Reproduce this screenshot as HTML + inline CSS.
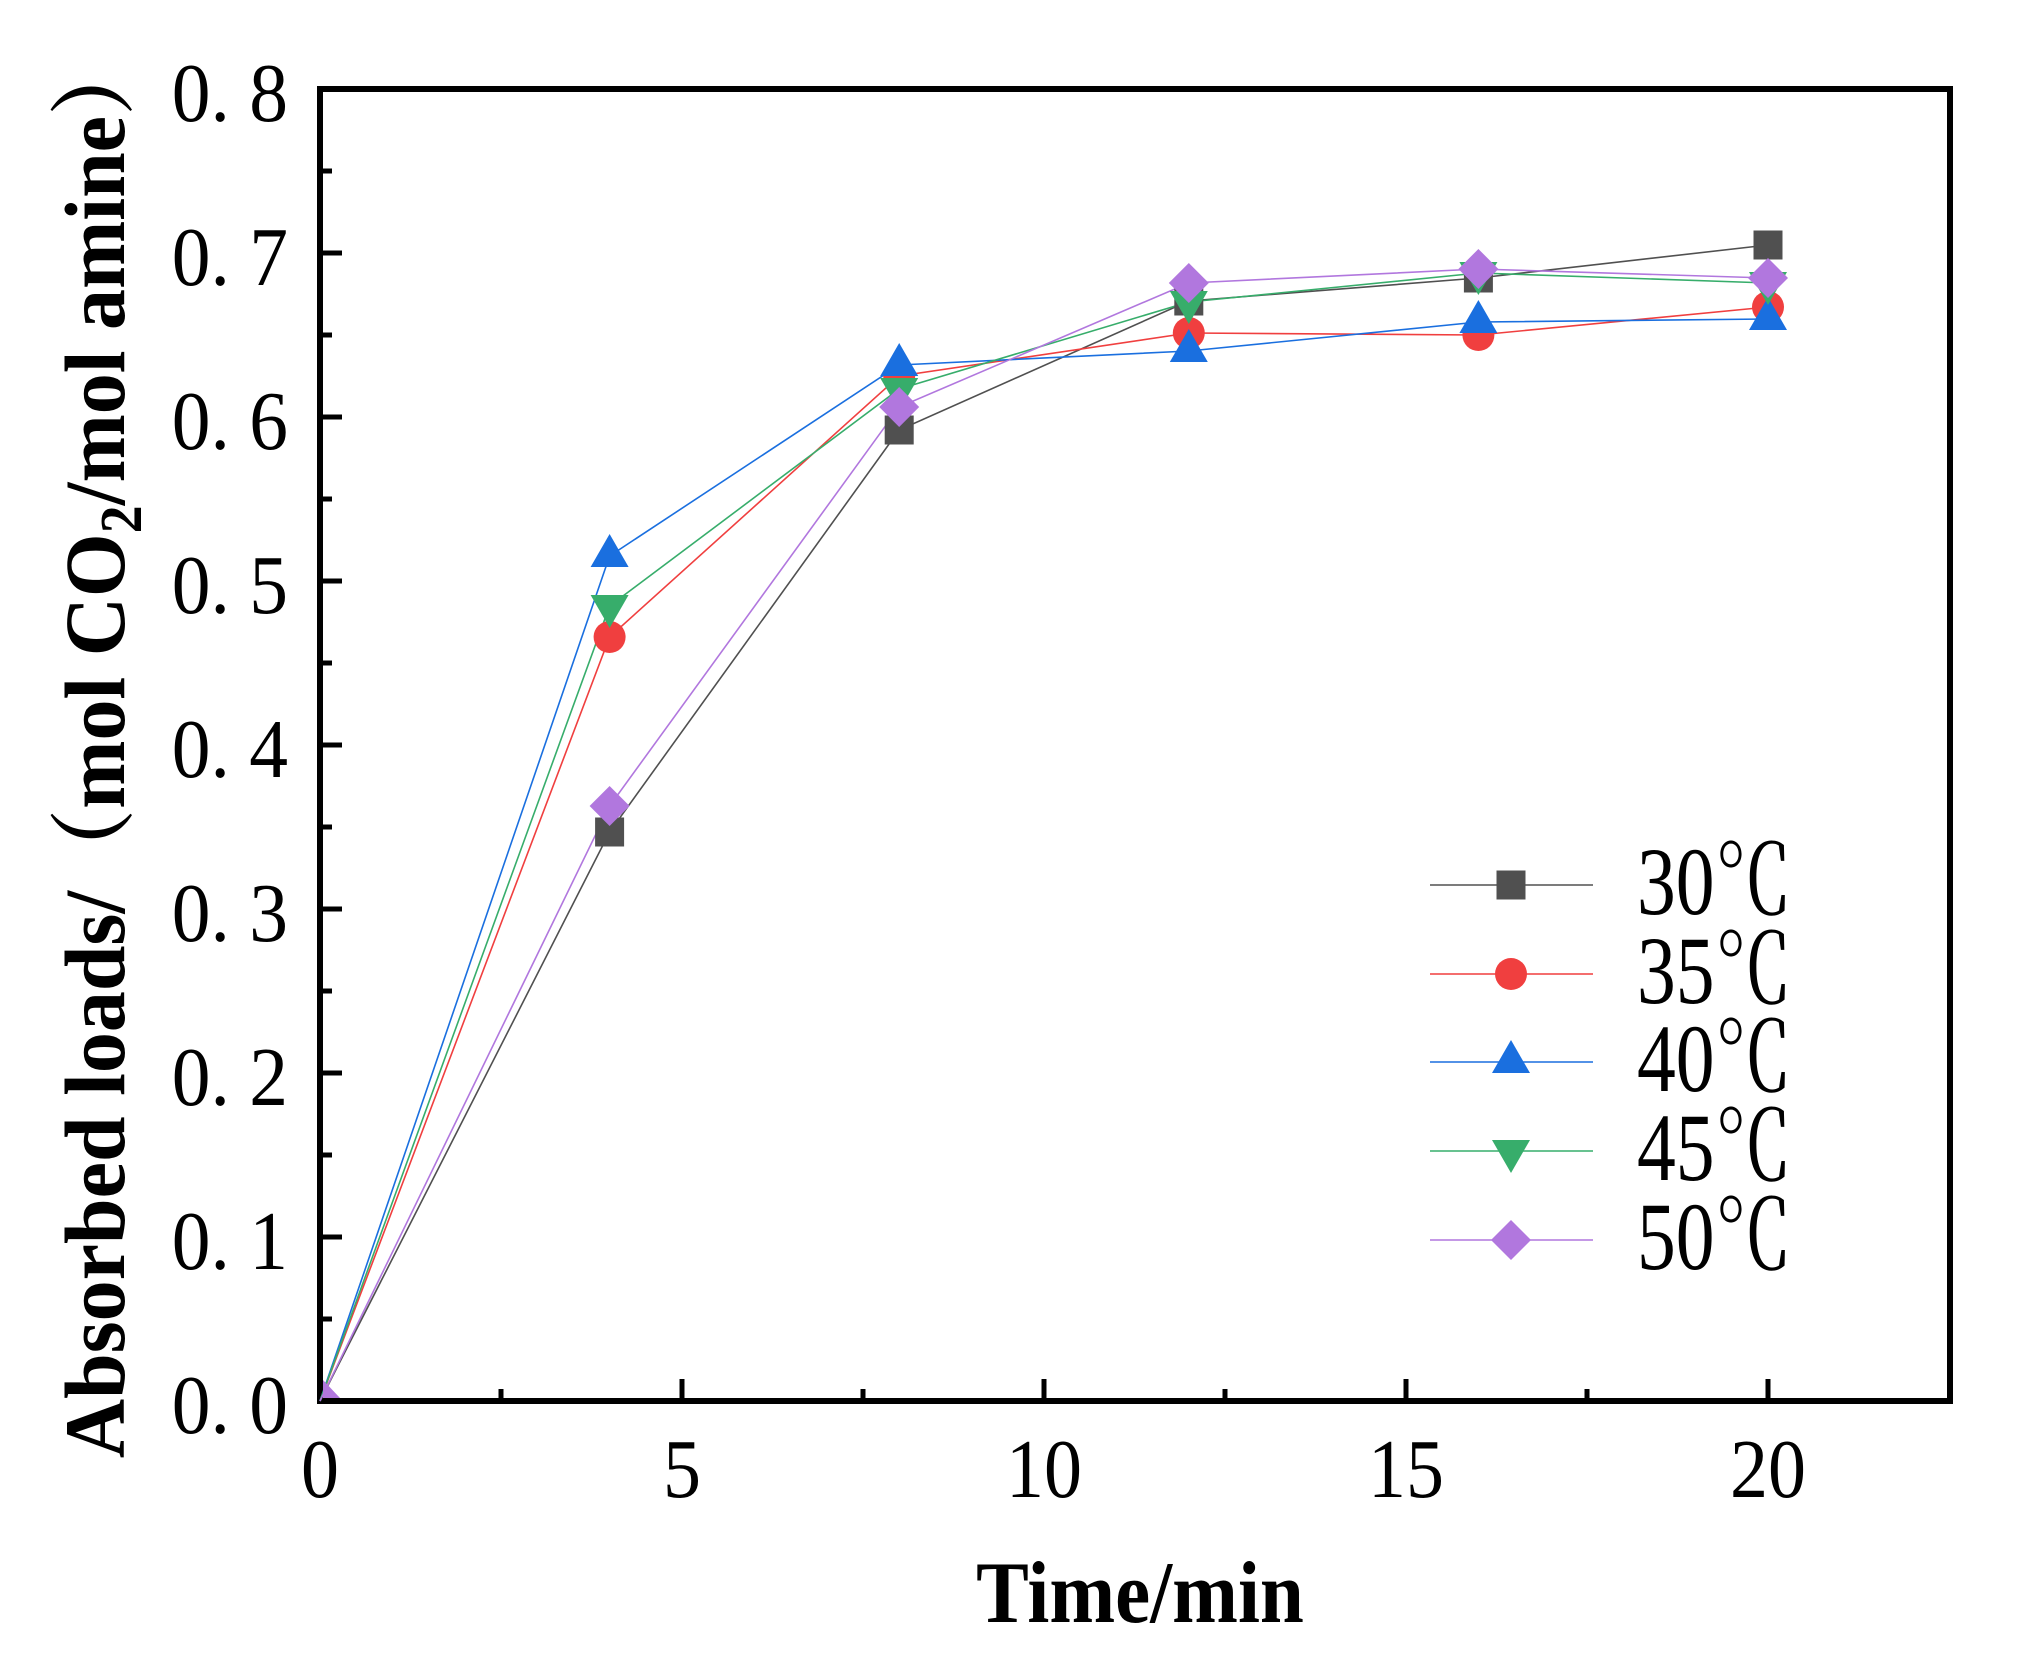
<!DOCTYPE html>
<html><head><meta charset="utf-8"><style>html,body{margin:0;padding:0;background:#fff}svg{display:block}</style></head>
<body>
<svg xmlns="http://www.w3.org/2000/svg" width="2021" height="1676" viewBox="0 0 2021 1676">
<defs>
<g id="sq"><rect x="-14.5" y="-14.5" width="29" height="29" fill="#505050"/></g>
<g id="ci"><circle r="16" fill="#f03f3f"/></g>
<g id="tu"><polygon points="0,-22 19,11 -19,11" fill="#1a6fdf"/></g>
<g id="td"><polygon points="0,22 19,-11 -19,-11" fill="#37ad6b"/></g>
<g id="di"><polygon points="0,-20 20,0 0,20 -20,0" fill="#b177de"/></g>
</defs>
<g font-family="Liberation Serif, serif" font-size="76" fill="#000" text-anchor="end">
<text transform="translate(288,1433) scale(1.02,1.1)">0. 0</text>
<text transform="translate(288,1269) scale(1.02,1.1)">0. 1</text>
<text transform="translate(288,1105) scale(1.02,1.1)">0. 2</text>
<text transform="translate(288,941) scale(1.02,1.1)">0. 3</text>
<text transform="translate(288,777) scale(1.02,1.1)">0. 4</text>
<text transform="translate(288,613) scale(1.02,1.1)">0. 5</text>
<text transform="translate(288,449) scale(1.02,1.1)">0. 6</text>
<text transform="translate(288,285) scale(1.02,1.1)">0. 7</text>
<text transform="translate(288,121) scale(1.02,1.1)">0. 8</text>
</g>
<g font-family="Liberation Serif, serif" font-size="76" fill="#000" text-anchor="middle">
<text transform="translate(320,1497) scale(1,1.1)">0</text>
<text transform="translate(682,1497) scale(1,1.1)">5</text>
<text transform="translate(1044,1497) scale(1,1.1)">10</text>
<text transform="translate(1406,1497) scale(1,1.1)">15</text>
<text transform="translate(1768,1497) scale(1,1.1)">20</text>
</g>
<text transform="translate(1140,1622) scale(1.0,1.12)" text-anchor="middle" font-family="Liberation Serif, serif" font-weight="bold" font-size="79">Time/min</text>
<text transform="translate(124,746) rotate(-90) scale(1,1.05)" text-anchor="middle" font-family="Liberation Serif, 'Noto Serif CJK SC', serif" font-weight="bold" font-size="82">Absorbed loads/（mol CO<tspan font-size="56" dy="16">2</tspan><tspan dy="-16">/mol amine）</tspan></text>
<g stroke="#000" stroke-width="5">
<path d="M320,1401 v-22 M682,1401 v-22 M1044,1401 v-22 M1406,1401 v-22 M1768,1401 v-22"/>
<path d="M501,1401 v-12 M863,1401 v-12 M1225,1401 v-12 M1587,1401 v-12"/>
<path d="M320,1237 h22 M320,1073 h22 M320,909 h22 M320,745 h22 M320,581 h22 M320,417 h22 M320,253 h22"/>
<path d="M320,1319 h12 M320,1155 h12 M320,991 h12 M320,827 h12 M320,663 h12 M320,499 h12 M320,335 h12 M320,171 h12"/>
<rect x="320" y="89" width="1630" height="1312" fill="none" stroke-width="6"/>
</g>
<g fill="none" stroke-width="1.6">
<polyline stroke="#505050" points="320,1401 609.6,832 899.2,430 1188.8,301 1478.4,278 1768,245"/>
<polyline stroke="#f03f3f" points="320,1401 609.6,637 899.2,376 1188.8,333 1478.4,335 1768,307"/>
<polyline stroke="#1a6fdf" points="320,1401 609.6,556 899.2,365 1188.8,351 1478.4,322 1768,319"/>
<polyline stroke="#37ad6b" points="320,1401 609.6,606 899.2,389 1188.8,302 1478.4,273 1768,283"/>
<polyline stroke="#b177de" points="320,1401 609.6,806 899.2,407 1188.8,283 1478.4,269 1768,278"/>
</g>
<g>
<use href="#sq" x="609.6" y="832"/><use href="#sq" x="899.2" y="430"/><use href="#sq" x="1188.8" y="301"/><use href="#sq" x="1478.4" y="278"/><use href="#sq" x="1768" y="245"/>
<use href="#ci" x="609.6" y="637"/><use href="#ci" x="899.2" y="376"/><use href="#ci" x="1188.8" y="333"/><use href="#ci" x="1478.4" y="335"/><use href="#ci" x="1768" y="307"/>
<use href="#tu" x="609.6" y="556"/><use href="#tu" x="899.2" y="365"/><use href="#tu" x="1188.8" y="351"/><use href="#tu" x="1478.4" y="322"/><use href="#tu" x="1768" y="319"/>
<use href="#td" x="609.6" y="606"/><use href="#td" x="899.2" y="389"/><use href="#td" x="1188.8" y="302"/><use href="#td" x="1478.4" y="273"/><use href="#td" x="1768" y="283"/>
<use href="#di" x="609.6" y="806"/><use href="#di" x="899.2" y="407"/><use href="#di" x="1188.8" y="283"/><use href="#di" x="1478.4" y="269"/><use href="#di" x="1768" y="278"/>
<polygon points="323,1380 340,1398 323,1398" fill="#b177de"/>
</g>
<g stroke-width="1.6">
<line x1="1430" y1="885" x2="1593" y2="885" stroke="#505050"/>
<line x1="1430" y1="974" x2="1593" y2="974" stroke="#f03f3f"/>
<line x1="1430" y1="1062" x2="1593" y2="1062" stroke="#1a6fdf"/>
<line x1="1430" y1="1151" x2="1593" y2="1151" stroke="#37ad6b"/>
<line x1="1430" y1="1240" x2="1593" y2="1240" stroke="#b177de"/>
</g>
<use href="#sq" x="1511" y="885"/><use href="#ci" x="1511" y="974"/><use href="#tu" x="1511" y="1062"/><use href="#td" x="1511" y="1151"/><use href="#di" x="1511" y="1240"/>
<g font-family="Liberation Serif, 'Noto Serif CJK SC', serif" font-size="80" fill="#000">
<text transform="translate(1637,914) scale(0.97,1.2)">30℃</text>
<text transform="translate(1637,1003) scale(0.97,1.2)">35℃</text>
<text transform="translate(1637,1091) scale(0.97,1.2)">40℃</text>
<text transform="translate(1637,1180) scale(0.97,1.2)">45℃</text>
<text transform="translate(1637,1269) scale(0.97,1.2)">50℃</text>
</g>
</svg>
</body></html>
